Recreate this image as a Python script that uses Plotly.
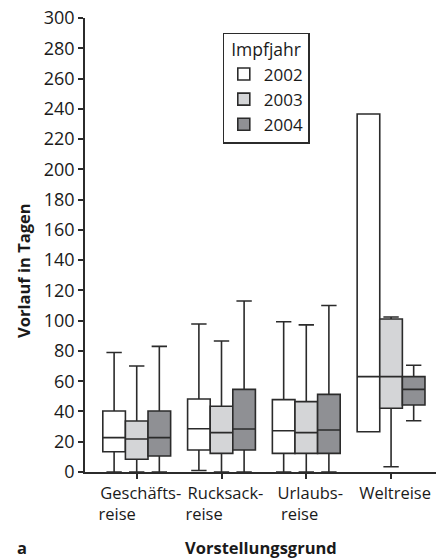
import plotly.graph_objects as go

NB = "\u00a0"
categories = ["Geschäftsreise", "Rucksackreise", "Urlaubsreise", "Weltreise"]
tick_labels = ["Geschäfts-<br>reise" + NB * 11,
               "Rucksack-<br>reise" + NB * 10,
               "Urlaubs-<br>reise" + NB * 5,
               "Weltreise"]
years = ["2002", "2003", "2004"]

# quartile statistics per year, one value per category
lower_2002 = [0, 1, 0, 26.6]
q1_2002 = [13.4, 14.5, 12.3, 26.6]
median_2002 = [22.7, 28.6, 27.3, 63]
q3_2002 = [40.3, 48.2, 47.8, 236.6]
upper_2002 = [79, 97.8, 99.3, 236.6]

lower_2003 = [0, 0, 0, 3.5]
q1_2003 = [8.4, 12.3, 12.3, 42.1]
median_2003 = [21.8, 26, 26, 63]
q3_2003 = [33.7, 43.4, 46.5, 101.1]
upper_2003 = [70, 86.6, 97.2, 102.4]

lower_2004 = [0, 0, 0, 33.9]
q1_2004 = [10.6, 14.5, 12.3, 44.3]
median_2004 = [22.7, 28.4, 27.8, 54.6]
q3_2004 = [40.3, 54.6, 51.3, 63]
upper_2004 = [83, 113, 110, 70.5]

y_ticks = list(range(0, 301, 20))

stats = {
    "2002": (lower_2002, q1_2002, median_2002, q3_2002, upper_2002),
    "2003": (lower_2003, q1_2003, median_2003, q3_2003, upper_2003),
    "2004": (lower_2004, q1_2004, median_2004, q3_2004, upper_2004),
}
fills = {"2002": "#ffffff", "2003": "#d4d5d7", "2004": "#8f9094"}

FONT = "Open Sans"
fig = go.Figure()
for yr in years:
    lo, q1, med, q3, up = stats[yr]
    fig.add_trace(go.Box(
        x=categories, q1=q1, median=med, q3=q3, lowerfence=lo, upperfence=up,
        name=yr, offsetgroup=yr, fillcolor=fills[yr],
        line=dict(color="#2b2b2b", width=1.6), whiskerwidth=0.68,
        boxpoints=False, hoverinfo="skip",
    ))

fig.update_layout(
    width=436, height=560,
    margin=dict(l=85, r=0, t=18, b=88),
    paper_bgcolor="white", plot_bgcolor="white",
    boxmode="group", boxgap=0.2, boxgroupgap=0,
    font=dict(family=FONT, color="#1a1a1a", size=17),
    showlegend=True,
    legend=dict(
        title=dict(text="Impfjahr", side="top center", font=dict(size=17.5)),
        x=0.392, y=0.968, xanchor="left", yanchor="top",
        bordercolor="#2b2b2b", borderwidth=1.2, bgcolor="white",
        font=dict(size=17), itemwidth=30,
    ),
    xaxis=dict(
        type="category", categoryorder="array", categoryarray=categories,
        range=[-0.61, 3.53], tickvals=categories, ticktext=tick_labels,
        tickangle=0, automargin=False,
        showline=True, linecolor="#2b2b2b", linewidth=1.5,
        ticks="outside", ticklen=5, tickcolor="#2b2b2b", tickwidth=1.5,
        showgrid=False, zeroline=False, tickfont=dict(size=16.5), ticklabelshift=4,
    ),
    yaxis=dict(
        range=[0, 300], tickvals=y_ticks, automargin=False,
        showline=True, linecolor="#2b2b2b", linewidth=1.5,
        ticks="outside", ticklen=5, tickcolor="#2b2b2b", tickwidth=1.5,
        showgrid=False, zeroline=False, tickfont=dict(size=18),
    ),
    annotations=[
        dict(text="<b>Vorstellungsgrund</b>", xref="paper", yref="paper", x=0.5, y=-0.166,
             showarrow=False, font=dict(size=16.5), xanchor="center", yanchor="middle"),
        dict(text="<b>Vorlauf in Tagen</b>", xref="paper", yref="paper", x=-0.1738, y=0.445,
             textangle=-90, showarrow=False, font=dict(size=16.5), xanchor="center", yanchor="middle"),
        dict(text="<b>a</b>", xref="paper", yref="paper", x=-0.1795, y=-0.166,
             showarrow=False, font=dict(size=16.5), xanchor="center", yanchor="middle"),
    ],
)

fig.write_html(
    "out.html",
    config={"displayModeBar": False},
    post_script="document.body.style.margin='0';document.body.style.overflow='hidden';",
)
